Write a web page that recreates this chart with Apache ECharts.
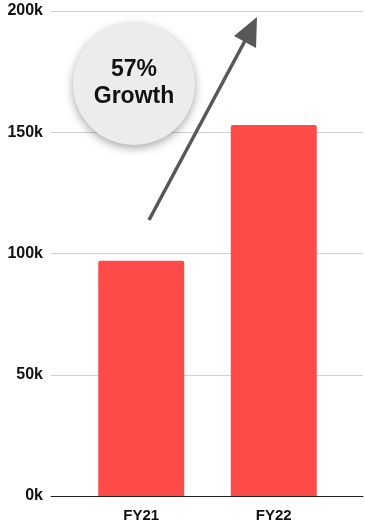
<!DOCTYPE html>
<html>
<head>
<meta charset="utf-8">
<title>Revenue FY21 vs FY22</title>
<script src="https://cdn.jsdelivr.net/npm/echarts@6/dist/echarts.min.js"></script>
<style>
  html, body { margin: 0; padding: 0; background: #ffffff; }
  #chart { width: 365px; height: 524px; }
</style>
</head>
<body>
<div id="chart"></div>
<script>
// Fiscal years and revenue values
const categories = ['FY21', 'FY22'];
const revenue = [97000, 153000];
const yTicks = [0, 50000, 100000, 150000, 200000];
const growthText = ['57%', 'Growth'];

const FONT = '"Liberation Sans", Arial, Helvetica, sans-serif';
const yMin = yTicks[0];
const yMax = yTicks[yTicks.length - 1];
const yStep = yTicks[1] - yTicks[0];

const chart = echarts.init(document.getElementById('chart'), null, { renderer: 'canvas' });

const option = {
  animation: false,
  backgroundColor: '#ffffff',
  grid: [
    // full-width grid carrying the value axis, gridlines and baseline
    { left: 51, right: 2, top: 11, bottom: 28 },
    // inner grid holding the bars
    { left: 75, right: 25, top: 11, bottom: 28 }
  ],
  xAxis: [
    {
      gridIndex: 0, type: 'category', data: categories,
      axisLine: { show: true, lineStyle: { color: '#222', width: 1 } },
      axisTick: { show: false },
      axisLabel: { show: false }
    },
    {
      gridIndex: 1, type: 'category', data: categories,
      axisLine: { show: false },
      axisTick: { show: false },
      axisLabel: {
        show: true, color: '#111', fontFamily: FONT, fontWeight: 'bold',
        fontSize: 15, margin: 12
      }
    }
  ],
  yAxis: [
    {
      gridIndex: 0, type: 'value', min: yMin, max: yMax, interval: yStep,
      axisLine: { show: false },
      axisTick: { show: false },
      splitLine: { show: true, lineStyle: { color: '#d0d0d0', width: 1 } },
      axisLabel: {
        color: '#111', fontFamily: FONT, fontWeight: 'bold', fontSize: 16, margin: 8,
        formatter: v => (v / 1000) + 'k'
      }
    },
    {
      gridIndex: 1, type: 'value', min: yMin, max: yMax, interval: yStep,
      show: false, splitLine: { show: false }
    }
  ],
  series: [
    {
      type: 'bar',
      xAxisIndex: 1, yAxisIndex: 1,
      data: revenue,
      barWidth: 86,
      itemStyle: { color: '#ff4a4a', borderRadius: [2, 2, 0, 0] }
    }
  ],
  graphic: [
    // growth arrow
    {
      type: 'line', z: 10,
      shape: { x1: 149, y1: 220, x2: 247, y2: 37 },
      style: { stroke: '#585858', lineWidth: 3.5 }
    },
    {
      type: 'polygon', z: 10,
      shape: { points: [[257, 17], [234, 36], [256, 48]] },
      style: { fill: '#585858' }
    },
    // badge
    {
      type: 'circle', z: 11,
      shape: { cx: 134, cy: 84, r: 61 },
      style: {
        fill: '#ececec',
        shadowBlur: 10, shadowColor: 'rgba(0,0,0,0.35)', shadowOffsetX: 0, shadowOffsetY: 3
      }
    },
    {
      type: 'text', z: 12,
      x: 134, y: 70,
      style: {
        text: growthText[0], fill: '#111', font: 'bold 23px ' + FONT,
        align: 'center', verticalAlign: 'middle'
      }
    },
    {
      type: 'text', z: 12,
      x: 134, y: 97,
      style: {
        text: growthText[1], fill: '#111', font: 'bold 23px ' + FONT,
        align: 'center', verticalAlign: 'middle'
      }
    }
  ]
};

chart.setOption(option);
</script>
</body>
</html>
